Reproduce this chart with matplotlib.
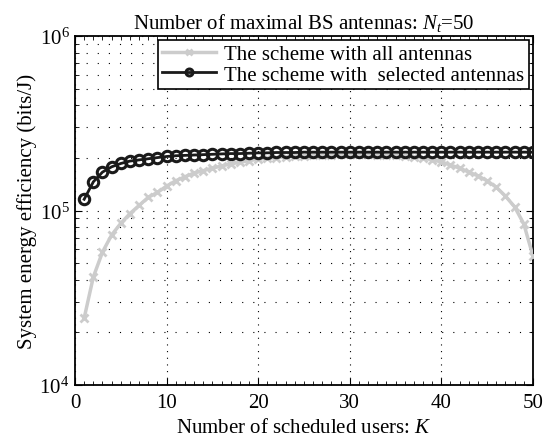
import matplotlib
matplotlib.use('Agg')
import matplotlib.pyplot as plt
from matplotlib.ticker import LogLocator, MultipleLocator, NullFormatter
import numpy as np

plt.rcParams['font.family'] = 'Liberation Serif'
plt.rcParams['mathtext.fontset'] = 'custom'
plt.rcParams['mathtext.rm'] = 'Liberation Serif'
plt.rcParams['mathtext.it'] = 'Liberation Serif:italic'

users = list(range(1, 51))

# energy efficiency, scheme with all antennas (bits/J)
ee_all = [2.42e4, 4.16e4, 5.78e4, 7.24e4, 8.45e4, 9.6e4, 1.07e5, 1.19e5, 1.27e5, 1.38e5,
          1.48e5, 1.56e5, 1.64e5, 1.69e5, 1.75e5, 1.80e5, 1.85e5, 1.89e5, 1.93e5, 1.97e5,
          1.99e5, 2.01e5, 2.03e5, 2.05e5, 2.06e5, 2.07e5, 2.08e5, 2.09e5, 2.10e5, 2.10e5,
          2.10e5, 2.10e5, 2.09e5, 2.08e5, 2.07e5, 2.05e5, 2.03e5, 2.00e5, 1.95e5, 1.90e5,
          1.82e5, 1.75e5, 1.66e5, 1.58e5, 1.48e5, 1.36e5, 1.21e5, 1.05e5, 8.4e4, 5.5e4]

# energy efficiency, scheme with selected antennas (bits/J)
ee_sel = [1.16e5, 1.46e5, 1.66e5, 1.78e5, 1.86e5, 1.92e5, 1.95e5, 1.98e5, 2.01e5, 2.04e5,
          2.06e5, 2.07e5, 2.08e5, 2.09e5, 2.10e5, 2.11e5, 2.12e5, 2.12e5, 2.13e5, 2.14e5,
          2.14e5, 2.15e5, 2.15e5, 2.15e5, 2.16e5, 2.16e5, 2.16e5, 2.16e5, 2.16e5, 2.16e5,
          2.16e5, 2.16e5, 2.16e5, 2.16e5, 2.16e5, 2.16e5, 2.16e5, 2.16e5, 2.16e5, 2.16e5,
          2.16e5, 2.16e5, 2.16e5, 2.16e5, 2.16e5, 2.16e5, 2.16e5, 2.16e5, 2.16e5, 2.16e5]

fig = plt.figure(figsize=(5.46, 4.39), dpi=100)
ax = fig.add_axes([0.1374, 0.1207, 0.8386, 0.795])

ax.semilogy(users, ee_all, color='#cccccc', lw=2.5, marker='x', ms=6, mew=2,
            label='The scheme with all antennas', zorder=3)
ax.semilogy(users, ee_sel, color='#1a1a1a', lw=2, marker='o', ms=7.5, mew=2.2,
            mfc='none', label='The scheme with  selected antennas', zorder=4)

ax.set_xlim(0, 50)
ax.set_ylim(1e4, 1e6)
ax.xaxis.set_major_locator(MultipleLocator(10))
ax.xaxis.set_minor_locator(MultipleLocator(1))
ax.yaxis.set_major_locator(LogLocator(base=10, numticks=10))
ax.yaxis.set_minor_locator(LogLocator(base=10, subs=np.arange(2, 10), numticks=10))
ax.yaxis.set_minor_formatter(NullFormatter())

ax.tick_params(which='both', direction='in', top=True, right=True, labelsize=15)
ax.tick_params(which='major', length=5)
ax.tick_params(which='minor', length=3)
ax.tick_params(axis='x', which='major', pad=6)
ax.tick_params(axis='y', which='major', pad=4)
for s in ax.spines.values():
    s.set_linewidth(1.3)

ax.grid(True, which='major', axis='x', color='k', lw=0.8, ls=(0, (1, 5)))
ax.grid(True, which='both', axis='y', color='k', lw=0.8, ls=(0, (1, 9)))

ax.set_xlabel('Number of scheduled users: $\\mathit{K}$', fontsize=15, labelpad=4)
ax.set_ylabel('System energy efficiency (bits/J)', fontsize=15, labelpad=2)
ax.set_title('Number of maximal BS antennas: $\\mathit{N_t}$=50', fontsize=15, pad=6)

leg = ax.legend(loc='upper right', fontsize=15, fancybox=False, framealpha=1,
                edgecolor='k', borderaxespad=0.2, handlelength=2.6,
                borderpad=0.2, labelspacing=0.05, handletextpad=0.4)
leg.get_frame().set_linewidth(1.2)
for h in leg.legend_handles:
    h.set_markersize(5)

fig.savefig('out.png', dpi=100)
